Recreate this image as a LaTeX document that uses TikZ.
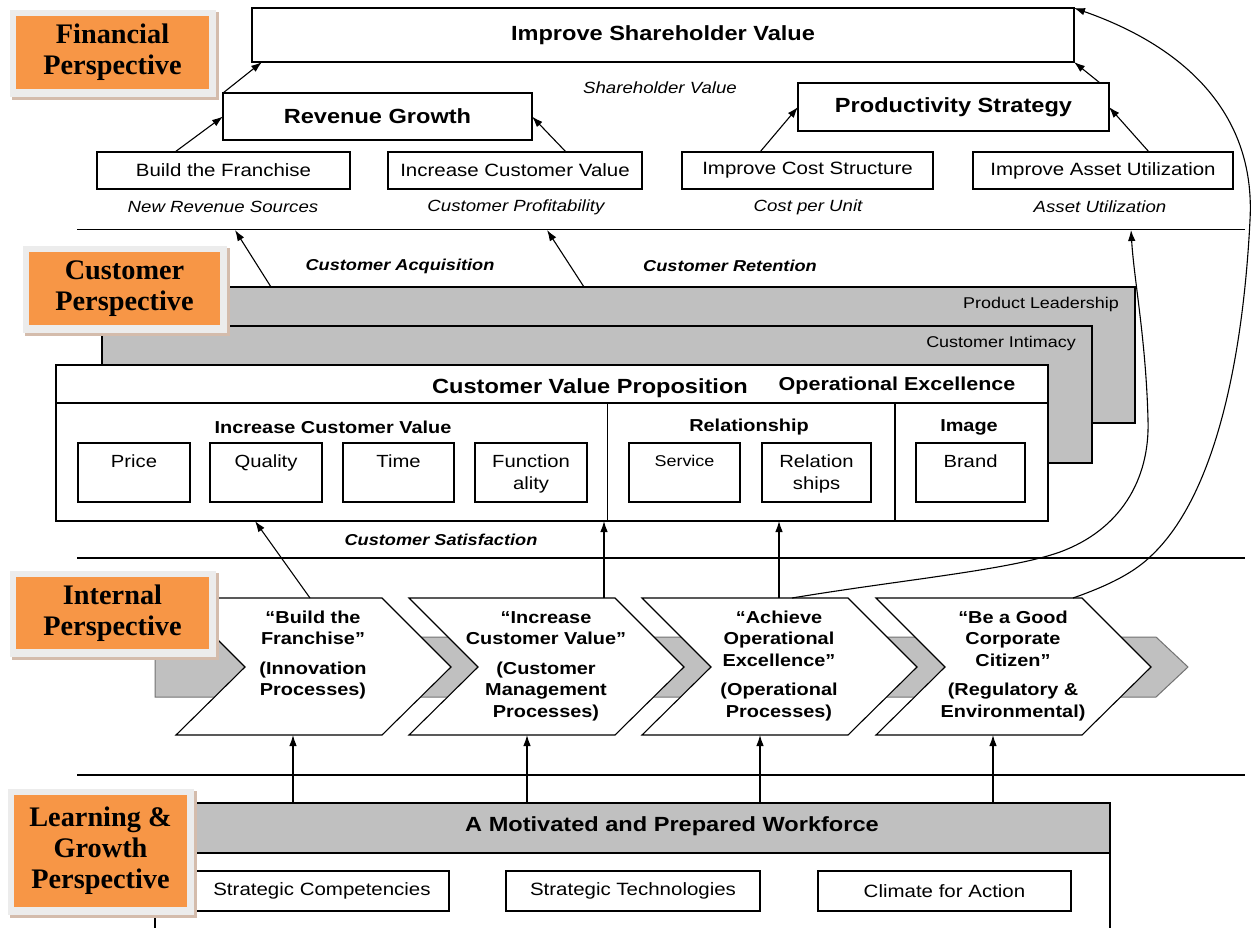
\documentclass[tikz,border=0pt]{standalone}
\usepackage{fontspec}
\setmainfont{Liberation Sans}[FakeStretch=1.15]
\newfontfamily\labelfont{Liberation Serif}
\usetikzlibrary{arrows.meta,calc}
\definecolor{orng}{RGB}{247,150,70}
\definecolor{gry}{RGB}{192,192,192}
\definecolor{glowc}{RGB}{236,236,236}
\definecolor{shadc}{RGB}{212,188,172}
\tikzset{
  box/.style={draw=black, line width=1.1pt, fill=white, inner sep=0pt, outer sep=0pt, align=center},
  ttl/.style={font=\fontsize{20.5}{24}\selectfont\bfseries},
  mbold/.style={font=\fontsize{18.7}{22}\selectfont\bfseries},
  sbold/.style={font=\fontsize{17.3}{21}\selectfont\bfseries},
  cbold/.style={font=\fontsize{17.3}{21.5}\selectfont\bfseries, align=center, inner sep=0pt},
  reg/.style={font=\fontsize{17.8}{21}\selectfont},
  regs/.style={font=\fontsize{17.6}{22}\selectfont, align=center, inner sep=0pt, anchor=north},
  small/.style={font=\fontsize{15.6}{19}\selectfont, inner sep=0pt},
  ital/.style={font=\fontsize{16.2}{19}\selectfont\itshape},
  bital/.style={font=\fontsize{15.8}{19}\selectfont\bfseries\itshape},
  arr/.style={-{Latex[length=11pt,width=7.5pt]}, line width=1.1pt},
  sepline/.style={line width=1.1pt},
  chev/.style={draw=black, line width=1.1pt, fill=white},
  band/.style={draw=black!55, line width=1pt, fill=gry},
  plabel/.style={font=\labelfont\bfseries\fontsize{28.3}{31}\selectfont, align=center, inner sep=0pt}
}
\newcommand\perspbox[6]{%
  \fill[shadc] (#2-4,#3-4) rectangle (#4+10,#5+11);
  \fill[glowc] (#2-6,#3-6) rectangle (#4+7,#5+8);
  \fill[orng] (#2,#3) rectangle (#4,#5);
  \node[plabel] (#1) at ({(#2+#4)/2},{(#3+#5)/2}) {#6};
}
\begin{document}
\begin{tikzpicture}[x=1pt,y=-1pt]
\useasboundingbox (0,0) rectangle (1255,928);
\fill[white] (0,0) rectangle (1255,928);

% separator lines
\coordinate (s1a) at (77,229.5); \coordinate (s1b) at (1245,229.5);
\coordinate (s2a) at (77,558);   \coordinate (s2b) at (1245,558);
\coordinate (s3a) at (77,775);   \coordinate (s3b) at (1245,775);
\draw[sepline] (s1a) -- (s1b);
\draw[sepline] (s2a) -- (s2b);
\draw[sepline] (s3a) -- (s3b);

% ---------------- Financial ----------------
\node[box, ttl, minimum width=822pt, minimum height=54pt] (topv) at (663,35) {Improve Shareholder Value};
\node[box, ttl, minimum width=309pt, minimum height=47pt] (rev) at (377.5,116.5) {Revenue Growth};
\node[box, ttl, minimum width=311pt, minimum height=48pt] (prod) at (953.5,107) {Productivity Strategy};
\node[box, reg, minimum width=253pt, minimum height=37pt] (bf) at (223.5,170.5) {Build the Franchise};
\node[box, reg, minimum width=254pt, minimum height=37pt] (icv) at (515,170.5) {Increase Customer Value};
\node[box, reg, minimum width=251pt, minimum height=37pt] (ics) at (807.5,170.5) {Improve Cost Structure};
\node[box, reg, minimum width=260pt, minimum height=37pt] (iau) at (1103,170.5) {Improve Asset Utilization};

\node[ital] (shv) at (660,88) {Shareholder Value};
\node[ital] (nrs) at (223,207) {New Revenue Sources};
\node[ital] (cpr) at (516,207) {Customer Profitability};
\node[ital] (cpu) at (808,207) {Cost per Unit};
\node[ital] (aut) at (1100,207) {Asset Utilization};

\draw[arr] (rev.north west) -- ($(topv.south west)+(10,0)$);
\draw[arr] ($(prod.north east)+(-9,0)$) -- (topv.south east);
\draw[arr] ($(bf.north west)+(78,0)$) -- (rev.west);
\draw[arr] ($(icv.north)+(51,0)$) -- (rev.east);
\draw[arr] ($(ics.north west)+(78,0)$) -- (prod.west);
\draw[arr] ($(iau.north)+(46,0)$) -- (prod.east);

% ---------------- Customer ----------------
\node[box, fill=gry, minimum width=955pt, minimum height=136pt] (pl) at (657.5,355) {};
\node[box, fill=gry, minimum width=990pt, minimum height=137pt] (ci) at (597,394.5) {};
\node[box, minimum width=992pt, minimum height=156pt] (cvp) at (552,443) {};
\node[small, anchor=east] (plt) at (1119,304) {Product Leadership};
\node[small, anchor=east] (cit) at (1076,343) {Customer Intimacy};
\draw[sepline] (56,403) -- (1048,403);
\draw[sepline] (607.5,403) -- (607.5,521);
\draw[sepline] (895,403) -- (895,521);
\node[ttl] (cvpt) at (590,388) {Customer Value Proposition};
\node[mbold] (oex) at (897,386) {Operational Excellence};
\node[sbold] (icvt) at (333,427) {Increase Customer Value};
\node[sbold] (relt) at (749,427) {Relationship};
\node[sbold] (imgt) at (969,427) {Image};

\node[box, minimum width=112pt, minimum height=59pt] (price) at (134,472.5) {};
\node[box, minimum width=112pt, minimum height=59pt] (qual) at (266,472.5) {};
\node[box, minimum width=111pt, minimum height=59pt] (time) at (398.5,472.5) {};
\node[box, minimum width=112pt, minimum height=59pt] (func) at (531,472.5) {};
\node[box, minimum width=111pt, minimum height=59pt] (serv) at (684.5,472.5) {};
\node[box, minimum width=109pt, minimum height=59pt] (rels) at (816.5,472.5) {};
\node[box, minimum width=109pt, minimum height=59pt] (brand) at (970.5,472.5) {};
\node[regs] (pricet) at ($(price.north)+(0,12)$) {Price};
\node[regs] (qualt) at ($(qual.north)+(0,12)$) {Quality};
\node[regs] (timet) at ($(time.north)+(0,12)$) {Time};
\node[regs] (funct) at ($(func.north)+(0,12)$) {Function\\ality};
\node[regs, font=\fontsize{15.6}{19}\selectfont] (servt) at ($(serv.north)+(0,12)$) {Service};
\node[regs] (relst) at ($(rels.north)+(0,12)$) {Relation\\ships};
\node[regs] (brandt) at ($(brand.north)+(0,12)$) {Brand};

\node[bital] (cacq) at (400,266) {Customer Acquisition};
\node[bital] (cret) at (730,266) {Customer Retention};
\node[bital] (csat) at (441,540) {Customer Satisfaction};
\draw[arr] ($(pl.north west)+(91,0)$) -- ($(bf.south)+(11.5,41)$);
\draw[arr] ($(pl.north west)+(404,0)$) -- ($(icv.south)+(32,41)$);

% ---------------- Internal ----------------
\draw[band] (155,637) -- (1156,637) -- (1188,667) -- (1156,697) -- (155,697) -- cycle;
\foreach \L in {176,409,642,876} {
  \draw[chev] (\L,598) -- (\L+206,598) -- (\L+275,667) -- (\L+206,735) -- (\L,735) -- (\L+69,667) -- cycle;
}
\node[cbold] (c1) at (313,655) {“Build the\\Franchise”\\[8pt](Innovation\\Processes)};
\node[cbold] (c2) at (546,666) {“Increase\\Customer Value”\\[8pt](Customer\\Management\\Processes)};
\node[cbold] (c3) at (779,666) {“Achieve\\Operational\\Excellence”\\[8pt](Operational\\Processes)};
\node[cbold] (c4) at (1013,666) {“Be a Good\\Corporate\\Citizen”\\[8pt](Regulatory \&\\Environmental)};

\coordinate (c1top) at (310,598);
\coordinate (c2top) at (604,598);
\coordinate (c3top) at (779,598);
\coordinate (c3r) at (792,598);
\coordinate (c4r) at (1073,598);
\coordinate (c1b) at (293,735);
\coordinate (c2b) at (527,735);
\coordinate (c3b) at (760,735);
\coordinate (c4b) at (993,735);

\draw[arr] (c1top) -- ($(cvp.south west)+(199,0)$);
\draw[arr] (c2top) -- (c2top |- cvp.south);
\draw[arr] (c3top) -- (c3top |- cvp.south);
\draw[arr] (c3r) .. controls (900,580) and (1010,570) .. (1060,552)
   .. controls (1120,530) and (1150,480) .. (1148,420)
   .. controls (1146,340) and (1134,280) .. ($(iau.south)+(28,41)$);
\draw[arr] (c4r) .. controls (1110,585) and (1135,572) .. (1152,555)
   .. controls (1215,495) and (1243,360) .. (1250,220)
   .. controls (1256,110) and (1180,45) .. (topv.north east);

% ---------------- Learning ----------------
\node[box, fill=gry, minimum width=955pt, minimum height=50pt] (mw) at (632.5,828) {};
\node[ttl] (mwt) at (672,826) {A Motivated and Prepared Workforce};
\coordinate (bl) at (155,928);
\coordinate (br) at (1110,928);
\draw[sepline] (mw.south west) -- (bl);
\draw[sepline] (mw.south east) -- (br);
\node[box, reg, minimum width=254pt, minimum height=40pt] (sc) at (322,891) {Strategic Competencies};
\node[box, reg, minimum width=254pt, minimum height=40pt] (st) at (633,891) {Strategic Technologies};
\node[box, reg, minimum width=253pt, minimum height=40pt] (ca) at (944.5,891) {Climate for Action};
\draw[arr] (mw.north -| c1b) -- (c1b);
\draw[arr] (mw.north -| c2b) -- (c2b);
\draw[arr] (mw.north -| c3b) -- (c3b);
\draw[arr] (mw.north -| c4b) -- (c4b);

% ---------------- Perspective labels ----------------
\perspbox{fin}{16}{16}{209}{89}{Financial\\Perspective}
\perspbox{cus}{29}{252}{220}{325}{Customer\\Perspective}
\perspbox{int}{16}{577}{209}{649}{Internal\\Perspective}
\perspbox{lrn}{14}{795}{187}{907}{Learning \&\\Growth\\Perspective}
\end{tikzpicture}
\end{document}
